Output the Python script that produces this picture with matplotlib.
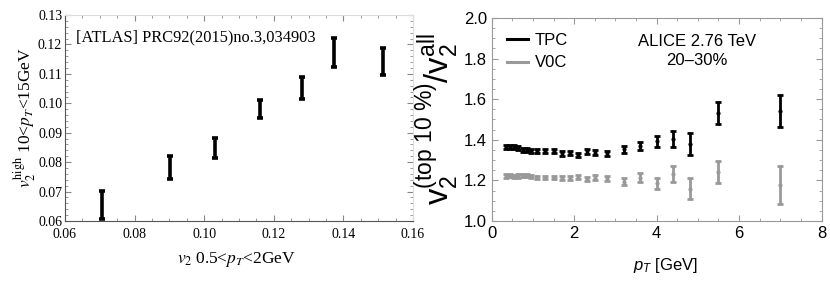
import numpy as np
import matplotlib
matplotlib.use("Agg")
import matplotlib.pyplot as plt
from matplotlib.ticker import MultipleLocator

plt.rcParams["mathtext.fontset"] = "custom"
plt.rcParams["mathtext.rm"] = "Liberation Sans"
plt.rcParams["mathtext.it"] = "Liberation Sans:italic"
plt.rcParams["mathtext.sf"] = "Liberation Sans"
plt.rcParams["mathtext.bf"] = "Liberation Sans:bold"

# left panel: ATLAS v2 high-pT vs v2 low-pT
atlas_x = [0.0707, 0.0902, 0.1032, 0.1161, 0.1282, 0.1372, 0.1515]
atlas_y = [0.0655, 0.0782, 0.0848, 0.0981, 0.1053, 0.1173, 0.1143]
atlas_err = [0.0047, 0.0038, 0.0033, 0.0030, 0.0038, 0.0049, 0.0046]

# right panel: ALICE ratio vs pT
pt = [0.35, 0.45, 0.55, 0.65, 0.75, 0.85, 0.95, 1.1, 1.3, 1.5, 1.7, 1.9,
      2.1, 2.3, 2.5, 2.8, 3.2, 3.6, 4.0, 4.4, 4.8, 5.5, 7.0]
tpc = [1.366, 1.364, 1.363, 1.360, 1.352, 1.350, 1.347, 1.346, 1.344, 1.344,
       1.333, 1.336, 1.325, 1.344, 1.336, 1.333, 1.353, 1.371, 1.392, 1.402,
       1.379, 1.532, 1.542]
tpc_err = [0.010, 0.010, 0.010, 0.010, 0.010, 0.010, 0.010, 0.010, 0.010, 0.010,
           0.011, 0.011, 0.012, 0.012, 0.013, 0.013, 0.016, 0.020, 0.029, 0.039,
           0.054, 0.054, 0.080]
v0c = [1.222, 1.223, 1.221, 1.222, 1.223, 1.223, 1.221, 1.216, 1.214, 1.214,
       1.213, 1.210, 1.216, 1.206, 1.213, 1.211, 1.194, 1.214, 1.185, 1.231,
       1.160, 1.242, 1.176]
v0c_err = [0.008, 0.008, 0.008, 0.008, 0.008, 0.008, 0.008, 0.008, 0.009, 0.009,
           0.010, 0.010, 0.011, 0.011, 0.012, 0.012, 0.016, 0.020, 0.029, 0.040,
           0.054, 0.054, 0.093]

fig = plt.figure(figsize=(8.3, 2.82), dpi=100)

# ---- left panel (serif, Mathematica-like frame)
ax1 = fig.add_axes([0.0783, 0.2163, 0.4193, 0.7305])
serif = "Liberation Serif"
ax1.errorbar(atlas_x, atlas_y, yerr=atlas_err, fmt="none", ecolor="black",
             elinewidth=2.6, capsize=2.5, capthick=2.6)
ax1.set_xlim(0.06, 0.16)
ax1.set_ylim(0.06, 0.13)
ax1.xaxis.set_major_locator(MultipleLocator(0.02))
ax1.xaxis.set_minor_locator(MultipleLocator(0.005))
ax1.yaxis.set_major_locator(MultipleLocator(0.01))
ax1.yaxis.set_minor_locator(MultipleLocator(0.002))
ax1.set_xticklabels([f"{v:.2f}" for v in ax1.get_xticks()])
ax1.set_yticklabels([f"{v:.2f}" for v in ax1.get_yticks()])
for lab in ax1.get_xticklabels() + ax1.get_yticklabels():
    lab.set_family(serif)
    lab.set_fontsize(10)
ax1.tick_params(which="both", direction="in", top=True, right=True, color="#888888")
ax1.tick_params(which="major", length=4)
ax1.tick_params(which="minor", length=2)
ax1.tick_params(axis="x", pad=5)
ax1.tick_params(axis="y", pad=2)
for s in ["left", "bottom"]:
    ax1.spines[s].set_color("#555555")
for s in ["top", "right"]:
    ax1.spines[s].set_color("#dddddd")
ax1.set_xlabel(r"$v_2$ 0.5<$p_T$<2GeV", family=serif, fontsize=12.5,
               math_fontfamily="stix")
ax1.xaxis.set_label_coords(0.494, -0.14)
ax1.set_ylabel(r"$v_2^{\rm high}$ 10<$p_T$<15GeV", family=serif, fontsize=12.5,
               math_fontfamily="stix")
ax1.yaxis.set_label_coords(-0.078, 0.5)
ax1.text(0.032, 0.893, "[ATLAS] PRC92(2015)no.3,034903", transform=ax1.transAxes,
         family=serif, fontsize=11.8, va="center", ha="left")

# ---- right panel (sans)
sans = "Liberation Sans"
ax2 = fig.add_axes([0.5924, 0.2163, 0.3974, 0.7199])
ax2.errorbar(pt, tpc, yerr=tpc_err, fmt="o", color="black", ms=2,
             elinewidth=2, capsize=2.2, capthick=2, label="TPC")
ax2.errorbar(pt, v0c, yerr=v0c_err, fmt="o", color="#999999", ms=2,
             elinewidth=2, capsize=2.2, capthick=2, label="V0C")
ax2.set_xlim(0, 8)
ax2.set_ylim(1.0, 2.0)
ax2.xaxis.set_major_locator(MultipleLocator(2))
ax2.xaxis.set_minor_locator(MultipleLocator(0.5))
ax2.yaxis.set_major_locator(MultipleLocator(0.2))
ax2.yaxis.set_minor_locator(MultipleLocator(0.05))
ax2.set_xticklabels([f"{v:.0f}" for v in ax2.get_xticks()])
ax2.set_yticklabels([f"{v:.1f}" for v in ax2.get_yticks()])
for lab in ax2.get_xticklabels() + ax2.get_yticklabels():
    lab.set_family(sans)
    lab.set_fontsize(12)
ax2.tick_params(which="both", direction="in", top=True, right=True, color="#999999")
ax2.tick_params(which="major", length=4)
ax2.tick_params(which="minor", length=2)
for s in ax2.spines.values():
    s.set_color("#999999")
ax2.set_xlabel(r"$p_T$ [GeV]", family=sans, fontsize=12)
ax2.xaxis.set_label_coords(0.528, -0.17)
ax2.set_ylabel(r"$\mathrm{v}_\mathrm{2}^{\mathrm{(top\ 10\ \%)}}/\mathrm{v}_\mathrm{2}^{\mathrm{all}}$",
               family=sans, fontsize=23.5)
ax2.yaxis.set_label_coords(-0.092, 0.5)
leg_handles = [plt.Line2D([], [], color="black", lw=2.2),
               plt.Line2D([], [], color="#999999", lw=2.2)]
ax2.legend(leg_handles, ["TPC", "V0C"], loc="upper left", frameon=False,
           prop={"family": sans, "size": 12}, handlelength=1.3, handletextpad=0.4,
           labelspacing=0.45, borderaxespad=0.5)
ax2.text(0.622, 0.837, "ALICE 2.76 TeV\n20\u201330%", transform=ax2.transAxes,
         family=sans, fontsize=12, ha="center", va="center", linespacing=1.35)

fig.savefig("out.png", dpi=100)
